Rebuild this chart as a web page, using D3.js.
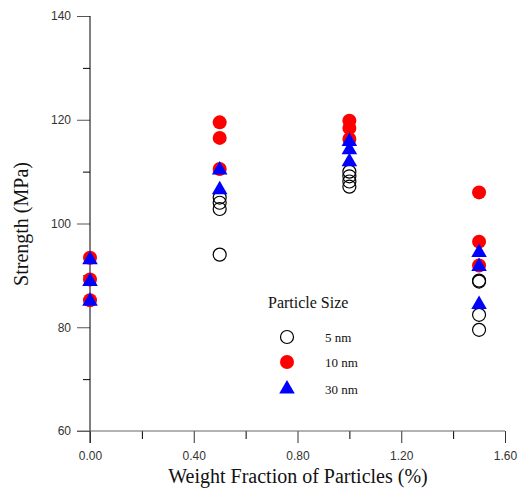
<!DOCTYPE html>
<html>
<head>
<meta charset="utf-8">
<script src="https://cdn.jsdelivr.net/npm/d3@7"></script>
<style>
  body { margin: 0; background: #fff; }
  .tick text { font-family: "Liberation Sans", Arial, sans-serif; font-size: 12px; fill: #333; }
  .title { font-family: "Liberation Serif", "Times New Roman", serif; fill: #111; }
</style>
</head>
<body>
<script>
// Data
var fractions = [0, 0.5, 1.0, 1.5];
var size5 = [[], [105.0, 104.0, 102.8, 94.0], [110.0, 109.1, 108.1, 107.1], [89.0, 88.8, 82.4, 79.5]];
var size10 = [[93.4, 89.2, 85.2], [119.5, 116.5, 110.5], [119.8, 118.4, 116.3], [106.0, 96.5, 91.9]];
var size30 = [[93.0, 88.8, 85.0], [110.3, 106.5], [115.8, 114.2, 111.9], [94.4, 91.7, 84.4]];
var xTicks = [0, 0.4, 0.8, 1.2, 1.6];
var yTicks = [60, 80, 100, 120, 140];
var legendLabels = ["5 nm", "10 nm", "30 nm"];

function setChart() {
    var width = 518, height = 488;

    var svg = d3.select("body").append("svg")
        .attr("width", width)
        .attr("height", height);

    var x = d3.scaleLinear().domain([0, 1.6]).range([90, 505]);
    var y = d3.scaleLinear().domain([60, 140]).range([431, 16]);

    // flatten series into points
    function points(series) {
        var pts = [];
        series.forEach(function(vals, i) {
            vals.forEach(function(v) { pts.push({ x: fractions[i], y: v }); });
        });
        return pts;
    }

    // y axis: major ticks with labels, minor ticks between
    var yAxis = svg.append("g")
        .attr("transform", "translate(90,0)")
        .call(d3.axisLeft(y).tickValues(yTicks).tickSize(13).tickPadding(6).tickFormat(d3.format("d")));
    yAxis.select(".domain").remove();
    yAxis.selectAll(".tick line").attr("stroke", "#555");
    svg.append("g")
        .attr("transform", "translate(90,0)")
        .call(d3.axisLeft(y).tickValues([70, 90, 110, 130]).tickSize(7).tickFormat(""))
        .select(".domain").remove();
    svg.append("line")
        .attr("x1", 90).attr("x2", 90)
        .attr("y1", y(140)).attr("y2", 443)
        .attr("stroke", "#000");

    // x axis
    var xAxis = svg.append("g")
        .attr("transform", "translate(0,431)")
        .call(d3.axisBottom(x).tickValues(xTicks).tickSize(12).tickPadding(8).tickFormat(d3.format(".2f")));
    xAxis.select(".domain").remove();
    xAxis.selectAll(".tick line").attr("stroke", "#333");
    svg.append("g")
        .attr("transform", "translate(0,431)")
        .call(d3.axisBottom(x).tickValues([0.2, 0.6, 1.0, 1.4]).tickSize(8).tickFormat(""))
        .select(".domain").remove();
    svg.append("line")
        .attr("x1", 77).attr("x2", x(1.6))
        .attr("y1", 431).attr("y2", 431)
        .attr("stroke", "#666");

    // axis titles
    svg.append("text")
        .attr("class", "title")
        .attr("x", 298).attr("y", 483)
        .attr("text-anchor", "middle")
        .attr("font-size", 20)
        .text("Weight Fraction of Particles (%)");
    svg.append("text")
        .attr("class", "title")
        .attr("transform", "translate(28,224) rotate(-90)")
        .attr("text-anchor", "middle")
        .attr("font-size", 20)
        .text("Strength (MPa)");

    var tri = d3.symbol().type(d3.symbolTriangle).size(105);

    // open circles (5 nm)
    svg.selectAll(".s5")
        .data(points(size5))
        .enter().append("circle")
        .attr("class", "s5")
        .attr("cx", function(d) { return x(d.x); })
        .attr("cy", function(d) { return y(d.y); })
        .attr("r", 6.5)
        .attr("fill", "none")
        .attr("stroke", "#000")
        .attr("stroke-width", 1.2);

    // red circles (10 nm)
    svg.selectAll(".s10")
        .data(points(size10))
        .enter().append("circle")
        .attr("class", "s10")
        .attr("cx", function(d) { return x(d.x); })
        .attr("cy", function(d) { return y(d.y); })
        .attr("r", 7)
        .attr("fill", "#ff0000");

    // blue triangles (30 nm)
    svg.selectAll(".s30")
        .data(points(size30))
        .enter().append("path")
        .attr("class", "s30")
        .attr("d", tri)
        .attr("transform", function(d) { return "translate(" + x(d.x) + "," + y(d.y) + ")"; })
        .attr("fill", "#0000ff");

    // legend
    var legend = svg.append("g");
    legend.append("text")
        .attr("class", "title")
        .attr("x", 268).attr("y", 308)
        .attr("font-size", 16)
        .text("Particle Size");
    var ly = [337, 362, 389];
    legend.append("circle").attr("cx", 287).attr("cy", ly[0]).attr("r", 6.5)
        .attr("fill", "none").attr("stroke", "#000").attr("stroke-width", 1.2);
    legend.append("circle").attr("cx", 287).attr("cy", ly[1]).attr("r", 7).attr("fill", "#ff0000");
    legend.append("path").attr("d", tri).attr("transform", "translate(287," + ly[2] + ")").attr("fill", "#0000ff");
    legend.selectAll(".lbl")
        .data(legendLabels)
        .enter().append("text")
        .attr("class", "title")
        .attr("x", 325)
        .attr("y", function(d, i) { return ly[i] + 5; })
        .attr("font-size", 13)
        .text(function(d) { return d; });
}

setChart();
</script>
</body>
</html>
